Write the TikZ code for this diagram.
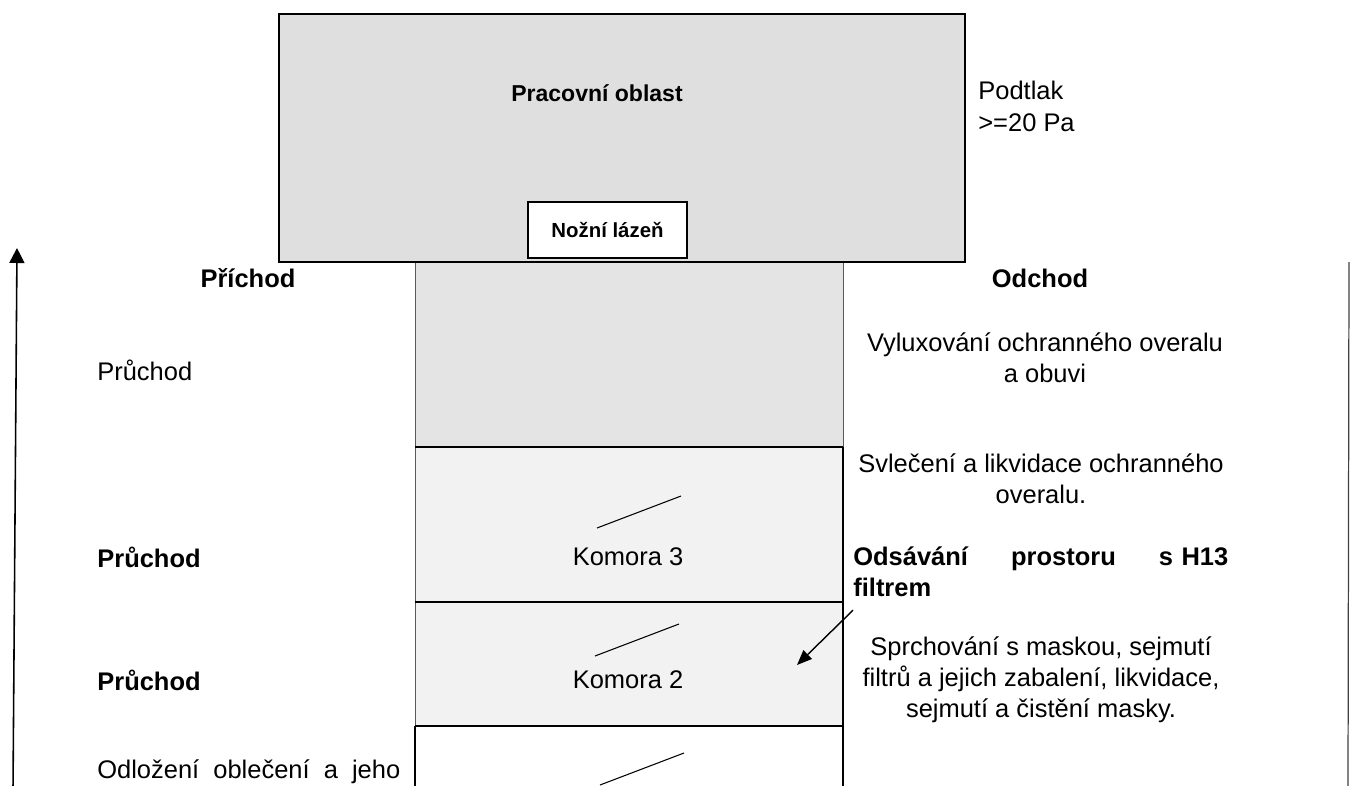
\documentclass[tikz,border=0pt]{standalone}
\usepackage{fontspec}
\setmainfont{Liberation Sans}
\usetikzlibrary{arrows.meta}

\begin{document}
\begin{tikzpicture}[x=0.02cm, y=-0.02cm,
    every node/.style={font=\fontsize{14.5}{17.5}\selectfont, inner sep=0pt},
    tucny/.style={font=\fontsize{14.5}{17.5}\selectfont\bfseries},
    tenka/.style={draw=black!65, line width=0.5pt},
    silna/.style={line width=0.9pt},
    sipka/.style={line width=0.8pt, -{Triangle[width=0.3cm, length=0.3cm]}}]

    % barvy ploch
    \definecolor{oblast}{RGB}{223, 223, 223}
    \definecolor{predsin}{RGB}{228, 228, 228}
    \definecolor{komora}{RGB}{242, 242, 242}

    \clip (0, 0) rectangle (1350, 785);

    % sloupec komor
    \fill[predsin] (415, 262) rectangle (843, 447);
    \fill[komora] (415, 447) rectangle (843, 726);
    \draw[tenka] (415, 262) -- (415, 726);
    \draw[tenka] (843, 262) -- (843, 447);
    \draw[silna] (843, 447) -- (843, 800);
    \draw[silna] (415, 726) -- (415, 800);
    \foreach \y in {447, 602, 726} {
        \draw[silna] (415, \y) -- (843, \y);
    }

    % dvere
    \foreach \x/\y in {597/528, 595/656, 600/785} {
        \draw[line width=0.6pt] (\x, \y) -- ++(84, -32);
    }

    % pracovni oblast
    \draw[fill=oblast, line width=1pt] (279, 14) rectangle (965, 262);
    \node[font=\fontsize{13.1}{16}\selectfont\bfseries] (oblast) at (597, 93) {Pracovní oblast};
    \node[draw, fill=white, line width=0.8pt, minimum width=3.18cm, minimum height=1.12cm,
        font=\fontsize{11.6}{14}\selectfont\bfseries] (lazen) at (607.5, 230) {Nožní lázeň};
    \node[anchor=west, align=left, font=\fontsize{14.5}{18.2}\selectfont] (podtlak) at (978, 106) {Podtlak\\>=20 Pa};

    % smery
    \coordinate (smer-dole) at (13, 790);
    \coordinate (smer-nahore) at (17, 248);
    \draw[sipka, line width=0.9pt] (smer-dole) -- (smer-nahore);
    \coordinate (prava-nahore) at (1349, 262);
    \coordinate (prava-dole) at (1348, 790);
    \draw[line width=0.7pt, black!75] (prava-nahore) -- (prava-dole);

    % levy sloupec - prichod
    \node[tucny] (prichod) at (248, 278) {Příchod};
    \node[anchor=west] (pruchod1) at (97, 370) {Průchod};
    \node[tucny, anchor=west] (pruchod2) at (97, 557) {Průchod};
    \node[tucny, anchor=west] (pruchod3) at (97, 680) {Průchod};
    \node[anchor=west, text width=6.06cm, align=left] (odlozeni) at (97, 772)
        {Odložení\hfill oblečení\hfill a\hfill jeho};

    % komory
    \node (komora3) at (628, 557) {Komora 3};
    \node (komora2) at (628, 680) {Komora 2};

    % pravy sloupec - odchod
    \node[tucny] (odchod) at (1040, 278) {Odchod};
    \node[align=center] (vyluxovani) at (1045, 358) {Vyluxování ochranného overalu\\a obuvi};
    \node[align=center] (svleceni) at (1041, 479) {Svlečení a likvidace ochranného\\overalu.};
    \node[tucny, anchor=west, text width=7.5cm, align=left] (odsavani) at (853, 572)
        {Odsávání\hfill prostoru\hfill s H13\\filtrem};
    \node[align=center] (sprchovani) at (1041, 680)
        {Sprchování s maskou, sejmutí\\filtrů a jejich zabalení, likvidace,\\sejmutí a čistění masky.};

    \coordinate (odsavani-cil) at (797, 665);
    \draw[sipka, -{Triangle[width=0.24cm, length=0.3cm]}] ([yshift=-0.26cm]odsavani.south west) -- (odsavani-cil);

\end{tikzpicture}
\end{document}
